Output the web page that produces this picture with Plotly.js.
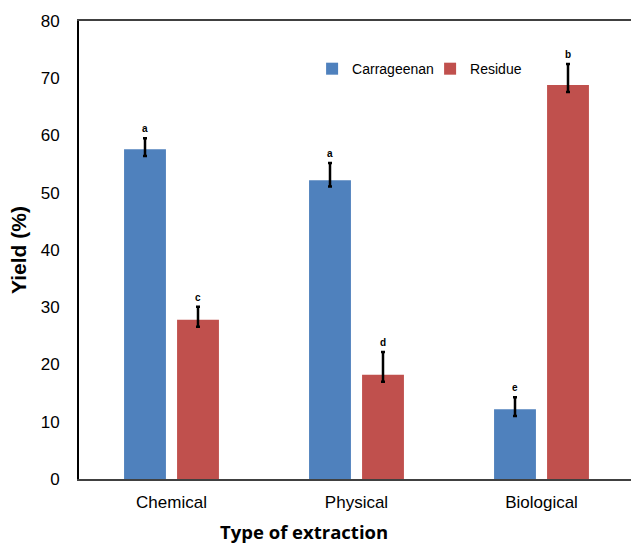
<!DOCTYPE html>
<html><head><meta charset="utf-8">
<script src="https://cdn.plot.ly/plotly-3.0.1.min.js"></script>
<style>html,body{margin:0;padding:0;overflow:hidden;background:#fff}</style>
</head><body><div id="chart" style="width:640px;height:546px"></div>
<script>
var categories = ["Chemical", "Physical", "Biological"];
var carrageenan = [57.6, 52.2, 12.2];
var carrageenanErrUp = [1.9, 3.0, 2.1];
var carrageenanErrDown = [1.2, 1.1, 1.2];
var carrageenanLetters = ["a", "a", "e"];
var residue = [27.8, 18.2, 68.8];
var residueErrUp = [2.3, 4.0, 3.7];
var residueErrDown = [1.2, 1.2, 1.2];
var residueLetters = ["c", "d", "b"];
var yTicks = [0, 10, 20, 30, 40, 50, 60, 70, 80];
var xTitle = "Type of extraction";
var yTitle = "Yield (%)";

var traces = [
  {type: "bar", name: "Carrageenan", x: categories, y: carrageenan,
   marker: {color: "#4F81BD"},
   error_y: {type: "data", symmetric: false, array: carrageenanErrUp, arrayminus: carrageenanErrDown,
     visible: true, color: "#000", thickness: 2.5, width: 2}},
  {type: "bar", name: "Residue", x: categories, y: residue,
   marker: {color: "#C0504D"},
   error_y: {type: "data", symmetric: false, array: residueErrUp, arrayminus: residueErrDown,
     visible: true, color: "#000", thickness: 2.5, width: 2}}
];

var annotations = [];
function addLetters(vals, errs, letters, offset) {
  for (var i = 0; i < categories.length; i++) {
    annotations.push({x: i + offset, y: vals[i] + errs[i], xref: "x", yref: "y",
      text: "<b>" + letters[i] + "</b>", showarrow: false, yanchor: "bottom", yshift: 2,
      font: {family: "Liberation Sans, Arial", size: 10, color: "#000"}});
  }
}
addLetters(carrageenan, carrageenanErrUp, carrageenanLetters, -0.143);
addLetters(residue, residueErrUp, residueLetters, 0.143);
annotations.push({xref: "paper", yref: "paper", x: 0.405, y: -0.1157, xanchor: "center", yanchor: "middle",
  showarrow: false, text: "<b>" + xTitle + "</b>",
  font: {family: "Open Sans, Lato", size: 18.5, color: "#000"}});

var layout = {
  width: 640, height: 546,
  margin: {l: 79, r: 6, t: 21, b: 67, autoexpand: false},
  paper_bgcolor: "#fff", plot_bgcolor: "#fff",
  barmode: "group", bargap: 0.427, bargroupgap: 0.21,
  showlegend: true,
  legend: {orientation: "h", x: 0.42, y: 0.895, xanchor: "left", yanchor: "middle",
    font: {family: "Liberation Sans, Arial", size: 14, color: "#000"}, bgcolor: "rgba(0,0,0,0)",
    itemwidth: 30, entrywidth: 73, entrywidthmode: "pixels", tracegroupgap: 0},
  xaxis: {type: "category", range: [-0.5, 2.5], showgrid: false, zeroline: false,
    showline: true, linecolor: "#404040", linewidth: 2, mirror: true, ticks: "",
    ticklabelstandoff: 7,
    tickfont: {family: "Liberation Sans, Arial", size: 17, color: "#000"}},
  yaxis: {range: [0, 80], tickvals: yTicks, showgrid: false, zeroline: false,
    showline: true, linecolor: "#000", linewidth: 2, mirror: true, ticks: "",
    ticklabelstandoff: 14,
    tickfont: {family: "Liberation Sans, Arial", size: 17, color: "#000"},
    title: {text: "<b>" + yTitle + "</b>", standoff: 8,
      font: {family: "Liberation Sans, Arial", size: 21, color: "#000"}}},
  annotations: annotations
};
Plotly.newPlot("chart", traces, layout, {displayModeBar: false, staticPlot: true});
</script></body></html>
